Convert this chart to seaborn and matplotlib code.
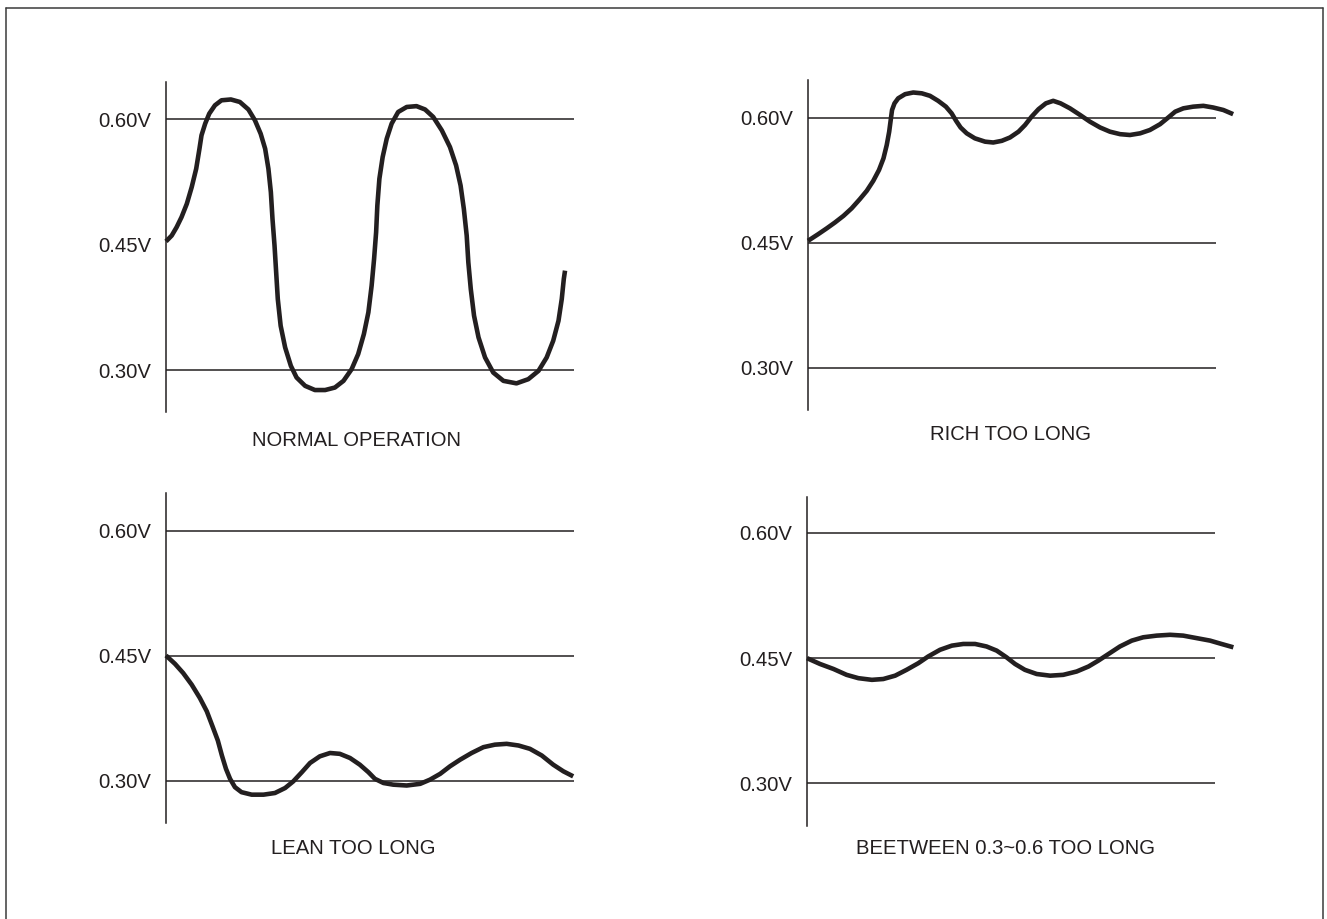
import matplotlib
matplotlib.use("Agg")
import matplotlib.pyplot as plt
from matplotlib.lines import Line2D
import seaborn as sns

sns.set_style("white")
plt.rcParams["font.family"] = ["Liberation Sans", "DejaVu Sans"]

INK = "#231f20"

# Reference voltage levels and their labels
levels = [0.30, 0.45, 0.60]
level_labels = ["0.30V", "0.45V", "0.60V"]

# Panel titles
titles = ["NORMAL OPERATION", "RICH TOO LONG", "LEAN TOO LONG",
          "BEETWEEN 0.3~0.6 TOO LONG"]

# O2 sensor voltage traces (x: relative time, 1.0 = end of reference lines)
normal_t = [0.000, 0.014, 0.026, 0.038, 0.051, 0.063, 0.074, 0.082, 0.087,
            0.096, 0.106, 0.120, 0.136, 0.159, 0.181, 0.202, 0.218, 0.232,
            0.243, 0.251, 0.257, 0.261, 0.266, 0.270, 0.274, 0.281, 0.292,
            0.306, 0.320, 0.341, 0.365, 0.390, 0.414, 0.435, 0.455, 0.471,
            0.485, 0.496, 0.504, 0.510, 0.515, 0.518, 0.523, 0.531, 0.541,
            0.553, 0.569, 0.590, 0.614, 0.635, 0.655, 0.676, 0.696, 0.711,
            0.722, 0.730, 0.737, 0.741, 0.747, 0.755, 0.766, 0.782, 0.802,
            0.827, 0.859, 0.888, 0.913, 0.933, 0.949, 0.962, 0.970, 0.975,
            0.978]
normal_v = [0.454, 0.461, 0.471, 0.483, 0.499, 0.519, 0.541, 0.565, 0.581,
            0.595, 0.607, 0.617, 0.623, 0.624, 0.621, 0.612, 0.599, 0.583,
            0.565, 0.541, 0.513, 0.481, 0.449, 0.417, 0.385, 0.353, 0.327,
            0.305, 0.291, 0.281, 0.276, 0.276, 0.279, 0.287, 0.301, 0.319,
            0.343, 0.369, 0.401, 0.433, 0.465, 0.497, 0.529, 0.555, 0.577,
            0.595, 0.609, 0.615, 0.616, 0.612, 0.603, 0.587, 0.567, 0.545,
            0.521, 0.493, 0.461, 0.429, 0.397, 0.365, 0.339, 0.315, 0.297,
            0.287, 0.284, 0.289, 0.299, 0.315, 0.335, 0.359, 0.385, 0.409,
            0.419]

rich_t = [0.000, 0.025, 0.046, 0.066, 0.087, 0.107, 0.127, 0.144, 0.160,
          0.174, 0.185, 0.193, 0.199, 0.203, 0.206, 0.212, 0.221, 0.238,
          0.258, 0.279, 0.299, 0.319, 0.338, 0.352, 0.363, 0.374, 0.389,
          0.409, 0.434, 0.454, 0.475, 0.495, 0.516, 0.532, 0.548, 0.565,
          0.583, 0.601, 0.619, 0.642, 0.667, 0.691, 0.716, 0.740, 0.765,
          0.789, 0.814, 0.838, 0.863, 0.883, 0.900, 0.920, 0.944, 0.969,
          0.993, 1.018, 1.042]
rich_v = [0.452, 0.460, 0.467, 0.474, 0.482, 0.491, 0.502, 0.512, 0.524,
          0.537, 0.551, 0.567, 0.583, 0.598, 0.609, 0.617, 0.623, 0.628,
          0.630, 0.629, 0.626, 0.620, 0.613, 0.605, 0.596, 0.588, 0.581,
          0.575, 0.571, 0.570, 0.572, 0.576, 0.583, 0.591, 0.601, 0.610,
          0.617, 0.620, 0.617, 0.611, 0.603, 0.595, 0.588, 0.583, 0.580,
          0.579, 0.581, 0.585, 0.592, 0.600, 0.607, 0.611, 0.613, 0.614,
          0.612, 0.609, 0.604]

lean_t = [0.000, 0.022, 0.042, 0.063, 0.083, 0.100, 0.114, 0.127, 0.137,
          0.147, 0.157, 0.169, 0.185, 0.210, 0.239, 0.267, 0.292, 0.312,
          0.333, 0.353, 0.377, 0.402, 0.426, 0.451, 0.475, 0.496, 0.512,
          0.533, 0.557, 0.590, 0.623, 0.647, 0.672, 0.696, 0.721, 0.749,
          0.778, 0.806, 0.835, 0.864, 0.892, 0.921, 0.949, 0.974, 0.998]
lean_v = [0.450, 0.440, 0.429, 0.415, 0.399, 0.383, 0.365, 0.348, 0.330,
          0.314, 0.302, 0.292, 0.286, 0.283, 0.283, 0.285, 0.291, 0.299,
          0.310, 0.321, 0.329, 0.333, 0.332, 0.327, 0.319, 0.310, 0.302,
          0.297, 0.295, 0.294, 0.296, 0.301, 0.308, 0.317, 0.325, 0.333,
          0.340, 0.343, 0.344, 0.342, 0.338, 0.330, 0.319, 0.311, 0.305]

mid_t = [0.000, 0.032, 0.065, 0.097, 0.126, 0.159, 0.187, 0.216, 0.244,
         0.273, 0.297, 0.326, 0.355, 0.383, 0.412, 0.440, 0.465, 0.489,
         0.510, 0.534, 0.563, 0.596, 0.628, 0.661, 0.690, 0.714, 0.739,
         0.767, 0.796, 0.824, 0.857, 0.890, 0.922, 0.955, 0.988, 1.016,
         1.045]
mid_v = [0.450, 0.443, 0.437, 0.430, 0.426, 0.424, 0.425, 0.429, 0.436,
         0.444, 0.452, 0.460, 0.465, 0.467, 0.467, 0.464, 0.459, 0.451,
         0.443, 0.436, 0.431, 0.429, 0.430, 0.434, 0.440, 0.447, 0.455,
         0.464, 0.471, 0.475, 0.477, 0.478, 0.477, 0.474, 0.471, 0.467,
         0.463]

traces = [(normal_t, normal_v), (rich_t, rich_v), (lean_t, lean_v),
          (mid_t, mid_v)]

# Panel layout in pixels: spine x, line end x, spine top/bottom,
# y of the 0.60 and 0.30 lines, whether the 0.45 line is drawn, title centre
W, H = 1327, 919
panels = [
    dict(left=166, right=574, top=82, bottom=412, y60=119.5, y30=370,
         mid=False, tx=356, ty=440),
    dict(left=808, right=1216, top=80, bottom=410, y60=117.5, y30=367.5,
         mid=True, tx=1010, ty=434),
    dict(left=166, right=574, top=493, bottom=823, y60=530.5, y30=780.5,
         mid=True, tx=353, ty=848),
    dict(left=807, right=1215, top=497, bottom=826, y60=533, y30=783.3,
         mid=True, tx=1006, ty=848),
]

fig = plt.figure(figsize=(W / 100, H / 100), dpi=100)
fig.patch.set_facecolor("white")

for p, (t, v), title in zip(panels, traces, titles):
    rect = [p["left"] / W, 1 - p["bottom"] / H,
            (p["right"] - p["left"]) / W, (p["bottom"] - p["top"]) / H]
    ax = fig.add_axes(rect)
    k = (p["y30"] - p["y60"]) / 0.30
    ax.set_xlim(0, 1)
    ax.set_ylim(0.30 - (p["bottom"] - p["y30"]) / k,
                0.60 + (p["y60"] - p["top"]) / k)
    ax.set_facecolor("none")

    for lv in levels:
        if lv == 0.45 and not p["mid"]:
            continue
        ax.axhline(lv, xmin=0, xmax=1, color=INK, lw=1.1, zorder=1)

    sns.lineplot(x=t, y=v, ax=ax, color=INK, lw=3.3, sort=False,
                 estimator=None, zorder=3)
    for ln in ax.lines:
        ln.set_clip_on(False)
        ln.set_solid_capstyle("butt")
        ln.set_solid_joinstyle("round")

    for side in ["top", "right", "bottom"]:
        ax.spines[side].set_visible(False)
    ax.spines["left"].set_color(INK)
    ax.spines["left"].set_linewidth(1.1)

    ax.set_xticks([])
    ax.set_yticks(levels)
    ax.set_yticklabels(level_labels)
    ax.tick_params(axis="y", length=0, pad=10.8, labelsize=14.6,
                   labelcolor=INK)

    fig.text(p["tx"] / W, 1 - p["ty"] / H, title, ha="center", va="center",
             fontsize=14.6, color=INK)

# Outer frame (open at the bottom edge of the page)
frame = dict(color="#3a3a3a", lw=1.1, transform=fig.transFigure)
fx0, fx1, fy0 = 5.5 / W, 1323 / W, 1 - 8 / H
fig.add_artist(Line2D([fx0, fx1], [fy0, fy0], **frame))
fig.add_artist(Line2D([fx0, fx0], [fy0, -0.01], **frame))
fig.add_artist(Line2D([fx1, fx1], [fy0, -0.01], **frame))

fig.savefig("out.png", dpi=100, facecolor="white")
